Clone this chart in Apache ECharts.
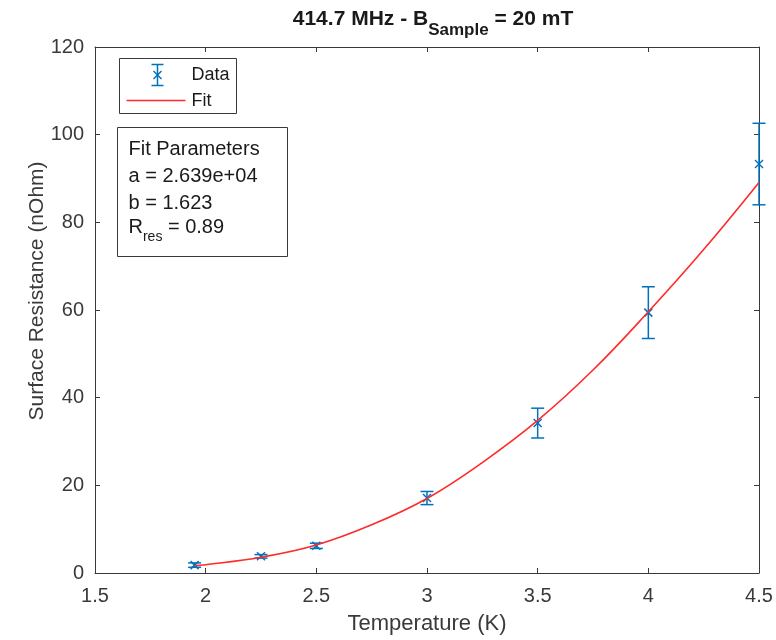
<!DOCTYPE html>
<html>
<head>
<meta charset="utf-8">
<script src="https://cdn.jsdelivr.net/npm/echarts@6/dist/echarts.min.js"></script>
<style>
  html, body { margin: 0; padding: 0; background: #fff; }
  #chart { width: 776px; height: 640px; }
</style>
</head>
<body>
<div id="chart"></div>
<script>
// Measured surface resistance vs. temperature
const temperature = [1.95, 2.25, 2.5, 3.0, 3.5, 4.0, 4.5];
const resistance  = [1.8, 3.8, 6.2, 17.1, 34.2, 59.4, 93.3];
const resError    = [0.5, 0.4, 0.6, 1.5, 3.4, 5.9, 9.3];

// Fitted BCS curve, sampled along the temperature range
const fitTemperature = [1.95, 2.0, 2.25, 2.5, 2.75, 3.0, 3.25, 3.5, 3.75, 4.0, 4.25, 4.5];
const fitResistance  = [1.7, 1.9, 3.6, 6.4, 11.0, 17.0, 25.2, 34.8, 46.3, 59.6, 73.8, 89.1];

// Axis ticks
const xTicks = { min: 1.5, max: 4.5, step: 0.5 };
const yTicks = { min: 0, max: 120, step: 20 };

const BLUE = '#0072BD';
const RED = '#ff2a2a';
const AXIS = '#3a3a3a';
const TEXT = '#1a1a1a';
const FONT = '"Liberation Sans", Arial, Helvetica, sans-serif';

const dataPoints = temperature.map((t, i) => [t, resistance[i], resError[i]]);
const fitPoints = fitTemperature.map((t, i) => [t, fitResistance[i]]);

function errorBarItem(params, api) {
  const x = api.value(0), y = api.value(1), e = api.value(2);
  const p = api.coord([x, y]);
  const top = api.coord([x, y + e]);
  const bot = api.coord([x, y - e]);
  const hw = 6.5, m = 4;
  const st = { stroke: BLUE, lineWidth: 1.5 };
  return {
    type: 'group',
    children: [
      { type: 'line', shape: { x1: p[0], y1: top[1], x2: p[0], y2: bot[1] }, style: st },
      { type: 'line', shape: { x1: p[0] - hw, y1: top[1], x2: p[0] + hw, y2: top[1] }, style: st },
      { type: 'line', shape: { x1: p[0] - hw, y1: bot[1], x2: p[0] + hw, y2: bot[1] }, style: st },
      { type: 'line', shape: { x1: p[0] - m, y1: p[1] - m, x2: p[0] + m, y2: p[1] + m }, style: st },
      { type: 'line', shape: { x1: p[0] - m, y1: p[1] + m, x2: p[0] + m, y2: p[1] - m }, style: st }
    ]
  };
}

function axisCommon() {
  return {
    axisLine: { show: true, onZero: false, lineStyle: { color: AXIS, width: 1 } },
    axisTick: { show: true, inside: true, length: 5, lineStyle: { color: AXIS } },
    splitLine: { show: false }
  };
}

const chart = echarts.init(document.getElementById('chart'), null, { renderer: 'canvas' });

chart.setOption({
  animation: false,
  backgroundColor: '#ffffff',
  title: {
    text: '{t|414.7 MHz - B}{s|Sample}{t| = 20 mT}',
    left: 428,
    textAlign: 'center',
    top: 4,
    textStyle: {
      rich: {
        t: { fontFamily: FONT, fontWeight: 'bold', fontSize: 21, color: TEXT, lineHeight: 28, verticalAlign: 'top' },
        s: { fontFamily: FONT, fontWeight: 'bold', fontSize: 17, color: TEXT, lineHeight: 17, verticalAlign: 'top', padding: [13, 0, 0, 0] }
      }
    }
  },
  grid: { left: 95, top: 47, width: 664, height: 530, containLabel: false },
  xAxis: [
    Object.assign({
      type: 'value', position: 'bottom',
      min: xTicks.min, max: xTicks.max, interval: xTicks.step,
      name: 'Temperature (K)', nameLocation: 'middle', nameGap: 40,
      nameTextStyle: { fontFamily: FONT, fontSize: 22, color: AXIS },
      axisLabel: { fontFamily: FONT, fontSize: 20, color: AXIS, margin: 13 }
    }, axisCommon()),
    Object.assign({
      type: 'value', position: 'top',
      min: xTicks.min, max: xTicks.max, interval: xTicks.step,
      axisLabel: { show: false }
    }, axisCommon())
  ],
  yAxis: [
    Object.assign({
      type: 'value', position: 'left',
      min: yTicks.min, max: yTicks.max, interval: yTicks.step,
      axisLabel: { fontFamily: FONT, fontSize: 20, color: AXIS, margin: 11 }
    }, axisCommon()),
    Object.assign({
      type: 'value', position: 'right',
      min: yTicks.min, max: yTicks.max, interval: yTicks.step,
      axisLabel: { show: false }
    }, axisCommon())
  ],
  series: [
    {
      name: 'Data',
      type: 'custom',
      xAxisIndex: 0, yAxisIndex: 0,
      renderItem: errorBarItem,
      clip: false,
      encode: { x: 0, y: 1 },
      data: dataPoints,
      z: 2
    },
    {
      name: 'Fit',
      type: 'line',
      xAxisIndex: 0, yAxisIndex: 0,
      data: fitPoints,
      smooth: 0.4,
      showSymbol: false,
      symbol: 'none',
      lineStyle: { color: RED, width: 1.6 },
      z: 3
    }
  ],
  graphic: [
    // y-axis title
    {
      type: 'text', x: 37, y: 291, rotation: Math.PI / 2,
      style: { text: 'Surface Resistance (nOhm)', fontFamily: FONT, fontSize: 21, fill: AXIS, align: 'center', verticalAlign: 'middle' }
    },
    // legend box
    {
      type: 'group', left: 119, top: 58,
      children: [
        { type: 'rect', shape: { x: 0, y: 0, width: 117, height: 55 }, style: { fill: '#fff', stroke: AXIS, lineWidth: 1 } },
        { type: 'line', shape: { x1: 38, y1: 6, x2: 38, y2: 27 }, style: { stroke: BLUE, lineWidth: 1.5 } },
        { type: 'line', shape: { x1: 32, y1: 6, x2: 44, y2: 6 }, style: { stroke: BLUE, lineWidth: 1.5 } },
        { type: 'line', shape: { x1: 32, y1: 27, x2: 44, y2: 27 }, style: { stroke: BLUE, lineWidth: 1.5 } },
        { type: 'line', shape: { x1: 34, y1: 12.5, x2: 42, y2: 20.5 }, style: { stroke: BLUE, lineWidth: 1.5 } },
        { type: 'line', shape: { x1: 34, y1: 20.5, x2: 42, y2: 12.5 }, style: { stroke: BLUE, lineWidth: 1.5 } },
        { type: 'text', x: 72, y: 17, style: { text: 'Data', fontFamily: FONT, fontSize: 18, fill: TEXT, verticalAlign: 'middle' } },
        { type: 'line', shape: { x1: 7, y1: 42, x2: 66, y2: 42 }, style: { stroke: RED, lineWidth: 1.6 } },
        { type: 'text', x: 72, y: 43, style: { text: 'Fit', fontFamily: FONT, fontSize: 18, fill: TEXT, verticalAlign: 'middle' } }
      ]
    },
    // fit parameters box
    {
      type: 'group', left: 117, top: 127,
      children: [
        { type: 'rect', shape: { x: 0, y: 0, width: 170, height: 129 }, style: { fill: '#fff', stroke: AXIS, lineWidth: 1 } },
        { type: 'text', x: 11, y: 22, style: { text: 'Fit Parameters', fontFamily: FONT, fontSize: 20, fill: TEXT, verticalAlign: 'middle' } },
        { type: 'text', x: 11, y: 49, style: { text: 'a = 2.639e+04', fontFamily: FONT, fontSize: 20, fill: TEXT, verticalAlign: 'middle' } },
        { type: 'text', x: 11, y: 76, style: { text: 'b = 1.623', fontFamily: FONT, fontSize: 20, fill: TEXT, verticalAlign: 'middle' } },
        {
          type: 'text', x: 11, y: 90,
          style: {
            text: '{r|R}{s|res}{r| = 0.89}',
            rich: {
              r: { fontFamily: FONT, fontSize: 20, fill: TEXT, color: TEXT, lineHeight: 24, verticalAlign: 'top' },
              s: { fontFamily: FONT, fontSize: 14, fill: TEXT, color: TEXT, lineHeight: 14, verticalAlign: 'top', padding: [13, 0, 0, 0] }
            }
          }
        }
      ]
    }
  ]
});
</script>
</body>
</html>
